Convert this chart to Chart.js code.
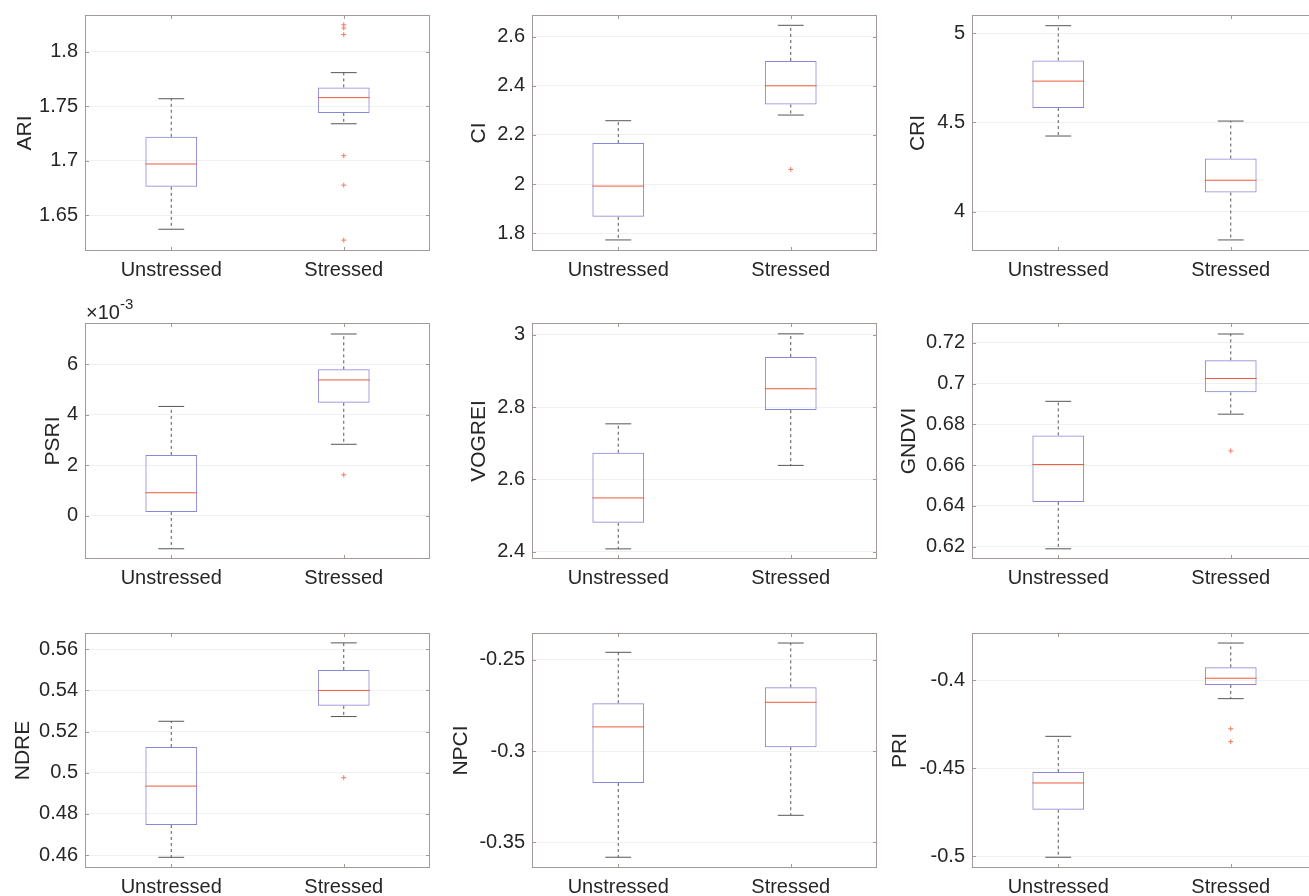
<!DOCTYPE html>
<html>
<head>
<meta charset="utf-8">
<title>Spectral indices – unstressed vs stressed</title>
<script src="https://cdn.jsdelivr.net/npm/chart.js@4.4.1/dist/chart.umd.min.js"></script>
<style>
  html, body { margin:0; padding:0; background:#fff; overflow:hidden; width:1309px; height:896px; position:relative; }
  .panel { position:absolute; }
</style>
</head>
<body>
<script>
// ── Data ────────────────────────────────────────────────
const groups = ['Unstressed', 'Stressed'];
const indices = ['ARI', 'CI', 'CRI', 'PSRI', 'VOGREI', 'GNDVI', 'NDRE', 'NPCI', 'PRI'];

// each row: [Unstressed, Stressed]
const lowerWhisker = [
  [1.637, 1.734], [1.773, 2.281], [4.424, 3.841],
  [-1.31e-3, 2.83e-3], [2.408, 2.639], [0.619, 0.685],
  [0.4589, 0.5273], [-0.3582, -0.3352], [-0.5007, -0.4106]
];
const q1 = [
  [1.676, 1.744], [1.867, 2.324], [4.581, 4.107],
  [0.15e-3, 4.475e-3], [2.480, 2.792], [0.642, 0.6957],
  [0.4746, 0.5325], [-0.3175, -0.2978], [-0.4737, -0.4028]
];
const median = [
  [1.697, 1.758], [1.992, 2.400], [4.732, 4.176],
  [0.91e-3, 5.38e-3], [2.549, 2.851], [0.6603, 0.7025],
  [0.4935, 0.540], [-0.2867, -0.2732], [-0.4585, -0.399]
];
const q3 = [
  [1.722, 1.7674], [2.167, 2.501], [4.848, 4.298],
  [2.41e-3, 5.8e-3], [2.674, 2.939], [0.6746, 0.7114],
  [0.5125, 0.5499], [-0.2737, -0.265], [-0.4523, -0.3928]
];
const upperWhisker = [
  [1.757, 1.781], [2.258, 2.646], [5.043, 4.508],
  [4.33e-3, 7.2e-3], [2.754, 3.003], [0.6913, 0.7243],
  [0.525, 0.5631], [-0.2458, -0.2407], [-0.432, -0.379]
];
const outliers = [
  [[], [1.825, 1.822, 1.816, 1.7046, 1.6776, 1.627]],
  [[], [2.06]],
  [[], []],
  [[], [1.62e-3]],
  [[], []],
  [[], [0.667]],
  [[], [0.4976]],
  [[], []],
  [[], [-0.4277, -0.435]]
];

// axis limits and tick values
const yRange = [
  [1.617, 1.834], [1.728, 2.688], [3.779, 5.103],
  [-1.715e-3, 7.636e-3], [2.38, 3.033], [0.614, 0.7297],
  [0.4537, 0.5679], [-0.3641, -0.2352], [-0.5068, -0.3733]
];
const yTicks = [
  [1.65, 1.7, 1.75, 1.8],
  [1.8, 2, 2.2, 2.4, 2.6],
  [4, 4.5, 5],
  [0, 0.002, 0.004, 0.006],
  [2.4, 2.6, 2.8, 3],
  [0.62, 0.64, 0.66, 0.68, 0.7, 0.72],
  [0.46, 0.48, 0.5, 0.52, 0.54, 0.56],
  [-0.35, -0.3, -0.25],
  [-0.5, -0.45, -0.4]
];
const yExponent = [0, 0, 0, -3, 0, 0, 0, 0, 0];

// ── Layout / style ──────────────────────────────────────
const colLeft = [0, 447, 887];
const rowTop = [-10, 298, 608];
const plotHeight = [236, 236, 235];
const titleOffset = [12.4, 19.4, 18.4, 40.4, 19.9, 9.4, 10.4, 1.9, 0.4];
const AXIS_W = 85, PLOT_W = 345, PAD_TOP = 25, XAXIS_H = 45;
const BOX_W = 0.3, CAP_W = 0.15;

const FRAME = '#a19a97';
const BOX = '#8a86d9';
const MED = '#ec5a3c';
const WHISK = '#5a5555';
const TEXT = '#262626';

Chart.defaults.font.family = '"Liberation Sans", Arial, Helvetica, sans-serif';
Chart.defaults.font.size = 20;
Chart.defaults.color = TEXT;

// MATLAB-like frame: box on, inward ticks, optional x10^n label
const matlabFrame = {
  id: 'matlabFrame',
  afterDraw(chart, args, opts) {
    const { ctx, chartArea: a, scales: { x, y } } = chart;
    ctx.save();
    ctx.strokeStyle = FRAME;
    ctx.lineWidth = 1;
    ctx.strokeRect(a.left + 0.5, a.top + 0.5, a.right - a.left - 1, a.bottom - a.top - 1);
    ctx.beginPath();
    x.ticks.forEach(t => {
      const px = Math.round(x.getPixelForValue(t.value)) + 0.5;
      ctx.moveTo(px, a.bottom); ctx.lineTo(px, a.bottom - 4);
      ctx.moveTo(px, a.top); ctx.lineTo(px, a.top + 4);
    });
    y.ticks.forEach(t => {
      const py = Math.round(y.getPixelForValue(t.value)) + 0.5;
      ctx.moveTo(a.left, py); ctx.lineTo(a.left + 4, py);
      ctx.moveTo(a.right, py); ctx.lineTo(a.right - 4, py);
    });
    ctx.stroke();

    if (opts.exponent) {
      ctx.fillStyle = TEXT;
      ctx.textBaseline = 'alphabetic';
      ctx.textAlign = 'left';
      ctx.font = '20px "Liberation Sans", Arial, sans-serif';
      const base = '\u00d710';
      ctx.fillText(base, a.left + 1, a.top - 4);
      const w = ctx.measureText(base).width;
      ctx.font = '15px "Liberation Sans", Arial, sans-serif';
      ctx.fillText(String(opts.exponent), a.left + 1 + w, a.top - 14);
    }
    ctx.restore();
  }
};

function fmtTick(v, exp) {
  return String(+(v / Math.pow(10, exp)).toFixed(6));
}

function buildPanel(i) {
  const col = i % 3, row = Math.floor(i / 3);
  const canvas = document.createElement('canvas');
  canvas.className = 'panel';
  canvas.width = AXIS_W + PLOT_W + 10;
  canvas.height = PAD_TOP + plotHeight[row] + XAXIS_H;
  canvas.style.left = colLeft[col] + 'px';
  canvas.style.top = rowTop[row] + 'px';
  document.body.appendChild(canvas);

  const xs = groups.map((g, k) => k + 1);
  const boxData = xs.map((x, k) => ({ x, y: [q1[i][k], q3[i][k]] }));
  const whiskerData = [], capData = [], medianData = [], outlierData = [];
  xs.forEach((x, k) => {
    whiskerData.push(
      { x, y: q3[i][k] }, { x, y: upperWhisker[i][k] }, { x, y: null },
      { x, y: q1[i][k] }, { x, y: lowerWhisker[i][k] }, { x, y: null }
    );
    capData.push(
      { x: x - CAP_W / 2, y: upperWhisker[i][k] }, { x: x + CAP_W / 2, y: upperWhisker[i][k] }, { x, y: null },
      { x: x - CAP_W / 2, y: lowerWhisker[i][k] }, { x: x + CAP_W / 2, y: lowerWhisker[i][k] }, { x, y: null }
    );
    medianData.push(
      { x: x - BOX_W / 2, y: median[i][k] }, { x: x + BOX_W / 2, y: median[i][k] }, { x, y: null }
    );
    outliers[i][k].forEach(v => outlierData.push({ x, y: v }));
  });

  const lineBase = { type: 'line', pointRadius: 0, borderWidth: 1, spanGaps: false, tension: 0, fill: false };

  new Chart(canvas, {
    type: 'bar',
    data: {
      datasets: [
        { type: 'line', data: outlierData, showLine: false, pointStyle: 'cross', pointRadius: 2.5,
          pointBorderWidth: 1, pointBorderColor: '#f07a60', order: 0 },
        { ...lineBase, data: medianData, borderColor: MED, order: 1 },
        { ...lineBase, data: capData, borderColor: WHISK, order: 2 },
        { type: 'bar', data: boxData, backgroundColor: 'rgba(0,0,0,0)', borderColor: BOX, borderWidth: 1,
          borderSkipped: false, barPercentage: BOX_W, categoryPercentage: 1, grouped: false, order: 3 },
        { ...lineBase, data: whiskerData, borderColor: WHISK, borderDash: [3, 3], order: 4 }
      ]
    },
    options: {
      responsive: false,
      animation: false,
      events: [],
      layout: { padding: { top: PAD_TOP, right: 10, bottom: 0, left: 0 } },
      plugins: {
        legend: { display: false },
        tooltip: { enabled: false },
        matlabFrame: { exponent: yExponent[i] ? String(yExponent[i]) : '' }
      },
      scales: {
        x: {
          type: 'linear', min: 0.5, max: 2.5, offset: false,
          afterBuildTicks: s => { s.ticks = xs.map(v => ({ value: v })); },
          afterFit: s => { s.height = XAXIS_H; },
          ticks: { padding: 7, autoSkip: false, maxRotation: 0, callback: v => groups[v - 1] },
          grid: { display: false, drawTicks: false },
          border: { display: false }
        },
        y: {
          type: 'linear', min: yRange[i][0], max: yRange[i][1], beginAtZero: false,
          afterBuildTicks: s => { s.ticks = yTicks[i].map(v => ({ value: v })); },
          afterFit: s => { s.width = AXIS_W; },
          ticks: { padding: 7, autoSkip: false, callback: v => fmtTick(v, yExponent[i]) },
          grid: { color: '#f1f1f1', drawTicks: false },
          border: { display: false },
          title: { display: true, text: indices[i], font: { size: 21 },
                   padding: { top: titleOffset[i], bottom: 0 } }
        }
      }
    },
    plugins: [matlabFrame]
  });
}

indices.forEach((name, i) => buildPanel(i));
</script>
</body>
</html>
